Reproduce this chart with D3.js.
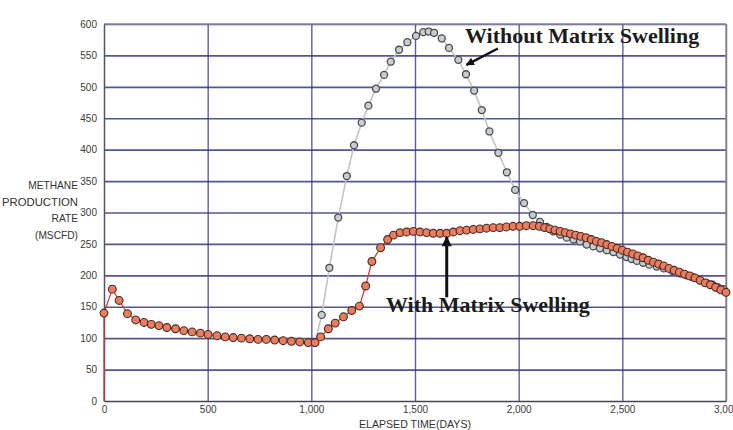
<!DOCTYPE html>
<html>
<head>
<meta charset="utf-8">
<script src="https://cdn.jsdelivr.net/npm/d3@7"></script>
<style>
  html, body { margin: 0; padding: 0; background: #ffffff; }
  svg { display: block; }
  .tick text { font-family: "Liberation Sans", Arial, sans-serif; fill: #3a3a3a; }
</style>
</head>
<body>
<svg id="chart" width="733" height="430"></svg>
<script>
// Methane production rate (MSCFD) vs elapsed time (days)
const withSwellingDays = [0, 0, 40, 73, 113, 153, 193, 228, 265, 303, 345, 385, 425, 465, 502, 545, 585, 623, 663, 703, 743, 783, 823, 864, 904, 944, 985, 1018, 1045, 1082, 1115, 1155, 1195, 1232, 1262, 1292, 1334, 1368, 1396, 1428, 1460, 1492, 1524, 1556, 1588, 1621, 1653, 1685, 1717, 1749, 1781, 1813, 1845, 1877, 1909, 1941, 1973, 2005, 2037, 2070, 2100, 2125, 2150, 2175, 2200, 2225, 2250, 2275, 2300, 2325, 2350, 2375, 2400, 2425, 2450, 2475, 2500, 2525, 2550, 2575, 2600, 2625, 2650, 2675, 2700, 2725, 2750, 2775, 2800, 2825, 2850, 2875, 2900, 2925, 2950, 2975, 3000];
const withSwellingRate = [0, 140, 178, 160, 139, 129, 125, 122, 120, 117, 115, 112, 110, 108, 106, 104, 102, 101, 100, 99, 98, 98, 97, 96, 95, 94, 93, 93, 102, 115, 124, 134, 144, 151, 183, 222, 244, 257, 264, 268, 269, 270, 269, 268, 267, 267, 267, 269, 271, 272, 273, 274, 275, 276, 276, 277, 278, 278, 279, 279, 278, 276, 274, 272, 270, 268, 266, 264, 262, 260, 257, 254, 252, 249, 246, 243, 240, 237, 234, 231, 228, 224, 221, 218, 215, 211, 208, 205, 202, 199, 196, 192, 188, 185, 181, 177, 173];

const withoutSwellingDays = [1018, 1050, 1087, 1130, 1171, 1206, 1243, 1275, 1312, 1351, 1383, 1423, 1463, 1505, 1540, 1566, 1592, 1629, 1664, 1709, 1746, 1785, 1822, 1859, 1902, 1943, 1983, 2026, 2068, 2103, 2135, 2167, 2200, 2232, 2264, 2296, 2328, 2360, 2392, 2425, 2457, 2489, 2520, 2545, 2570, 2600, 2630, 2666, 2700, 2740, 2779, 2810, 2840, 2875, 2905, 2935, 2960, 2987];
const withoutSwellingRate = [93, 137, 212, 292, 358, 407, 443, 470, 497, 519, 540, 559, 571, 581, 587, 588, 586, 577, 562, 543, 520, 494, 463, 429, 395, 364, 336, 315, 296, 285, 277, 270, 265, 260, 257, 254, 249, 246, 243, 240, 237, 233, 229, 226, 223, 220, 217, 214, 211, 207, 203, 200, 197, 192, 188, 185, 181, 178];

const xTicks = [0, 500, 1000, 1500, 2000, 2500, 3000];
const yTicks = [0, 50, 100, 150, 200, 250, 300, 350, 400, 450, 500, 550, 600];
const yTitleLines = ["METHANE", "PRODUCTION", "RATE", "(MSCFD)"];
const xTitle = "ELAPSED TIME(DAYS)";

const redSeries = withSwellingDays.map((d, i) => ({ t: d, v: withSwellingRate[i] }));
const greySeries = withoutSwellingDays.map((d, i) => ({ t: d, v: withoutSwellingRate[i] }));

const svg = d3.select("#chart");
const x = d3.scaleLinear().domain([0, 3000]).range([104, 726]);
const y = d3.scaleLinear().domain([0, 600]).range([401, 24]);

const gridColor = "#36367f";

// horizontal grid
svg.append("g")
  .attr("transform", `translate(${x(0)},0)`)
  .call(d3.axisLeft(y).tickValues(yTicks.filter(v => v > 0)).tickSize(-(x(3000) - x(0))).tickFormat(""))
  .call(g => g.select(".domain").remove())
  .call(g => g.selectAll("line").attr("stroke", gridColor).attr("stroke-width", 1.6).attr("stroke-opacity", 0.85));

// vertical grid
svg.append("g")
  .attr("transform", `translate(0,${y(0)})`)
  .call(d3.axisBottom(x).tickValues(xTicks.filter(v => v > 0)).tickSize(-(y(0) - y(600))).tickFormat(""))
  .call(g => g.select(".domain").remove())
  .call(g => g.selectAll("line").attr("stroke", gridColor).attr("stroke-width", 1.4).attr("stroke-opacity", 0.8));

// border top / right
svg.append("line").attr("x1", x(0)).attr("x2", x(3000)).attr("y1", y(600)).attr("y2", y(600))
  .attr("stroke", "#8a8a9a").attr("stroke-width", 1.3);
svg.append("line").attr("x1", x(3000)).attr("x2", x(3000)).attr("y1", y(600)).attr("y2", y(0))
  .attr("stroke", "#8a8a9a").attr("stroke-width", 1.3);

// y axis
svg.append("g")
  .attr("transform", `translate(${x(0)},0)`)
  .call(d3.axisLeft(y).tickValues(yTicks).tickSize(0).tickPadding(7).tickFormat(d3.format("d")))
  .call(g => g.select(".domain").attr("stroke", "#555566").attr("stroke-width", 1.5))
  .call(g => g.selectAll("text").attr("font-size", "10px"));

// x axis
svg.append("g")
  .attr("transform", `translate(0,${y(0)})`)
  .call(d3.axisBottom(x).tickValues(xTicks).tickSize(0).tickPadding(5).tickFormat(d3.format(",")))
  .call(g => g.select(".domain").attr("stroke", "#444455").attr("stroke-width", 1.6))
  .call(g => g.selectAll("text").attr("font-size", "10px"));

// axis titles
const yTitle = svg.append("g").attr("font-family", "Liberation Sans, Arial, sans-serif")
  .attr("font-size", "10.2px").attr("fill", "#333").attr("text-anchor", "end");
yTitleLines.forEach((s, i) => {
  const t = yTitle.append("text").attr("x", 78).attr("y", 189 + i * 16.7).text(s);
  if (s === "PRODUCTION") t.attr("textLength", 76).attr("lengthAdjust", "spacingAndGlyphs");
});
svg.append("text")
  .attr("x", (x(0) + x(3000)) / 2).attr("y", 428)
  .attr("text-anchor", "middle")
  .attr("font-family", "Liberation Sans, Arial, sans-serif")
  .attr("font-size", "10.6px").attr("fill", "#333")
  .text(xTitle);

// series lines
const line = d3.line().x(d => x(d.t)).y(d => y(d.v));

svg.append("path").datum(greySeries)
  .attr("fill", "none").attr("stroke", "#c4c4c4").attr("stroke-width", 1.6)
  .attr("d", line);
svg.append("g").selectAll("circle").data(greySeries).join("circle")
  .attr("cx", d => x(d.t)).attr("cy", d => y(d.v)).attr("r", 3.5)
  .attr("fill", "#c6ced4").attr("stroke", "#4a4a4a").attr("stroke-width", 1.3);

svg.append("path").datum(redSeries)
  .attr("fill", "none").attr("stroke", "#d0402e").attr("stroke-width", 1.3)
  .attr("d", line);
svg.append("g").selectAll("circle").data(redSeries.filter(d => d.v > 0)).join("circle")
  .attr("cx", d => x(d.t)).attr("cy", d => y(d.v)).attr("r", 3.9)
  .attr("fill", "#e97d5f").attr("stroke", "#4a2a22").attr("stroke-width", 1.1);

// annotations
const defs = svg.append("defs");
defs.append("marker").attr("id", "head").attr("viewBox", "0 0 10 10")
  .attr("refX", 9).attr("refY", 5).attr("markerWidth", 3.8).attr("markerHeight", 3.4)
  .attr("markerUnits", "strokeWidth").attr("orient", "auto")
  .append("path").attr("d", "M0,0 L10,5 L0,10 Z").attr("fill", "#111");

svg.append("line")
  .attr("x1", x(1900)).attr("y1", y(561)).attr("x2", x(1748)).attr("y2", y(535))
  .attr("stroke", "#111").attr("stroke-width", 2.4).attr("marker-end", "url(#head)");
svg.append("line")
  .attr("x1", x(1653)).attr("y1", y(165)).attr("x2", x(1653)).attr("y2", y(261))
  .attr("stroke", "#111").attr("stroke-width", 3).attr("marker-end", "url(#head)");

const noteFont = "Liberation Serif, 'Times New Roman', serif";
svg.append("text").attr("x", x(1741)).attr("y", y(570))
  .attr("font-family", noteFont).attr("font-weight", "bold").attr("font-size", "22px")
  .attr("fill", "#1c1c1c").text("Without Matrix Swelling");
svg.append("text").attr("x", x(1360)).attr("y", y(142))
  .attr("font-family", noteFont).attr("font-weight", "bold").attr("font-size", "22px")
  .attr("fill", "#1c1c1c").text("With Matrix Swelling");
</script>
</body>
</html>
